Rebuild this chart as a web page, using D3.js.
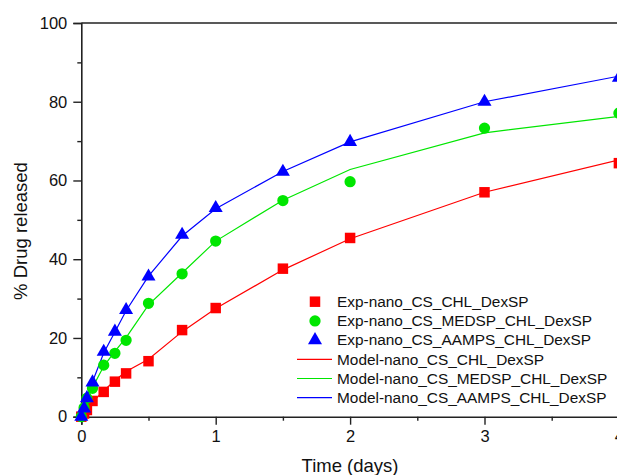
<!DOCTYPE html>
<html>
<head>
<meta charset="utf-8">
<script src="https://cdn.jsdelivr.net/npm/d3@7"></script>
<style>
  html, body { margin: 0; padding: 0; background: #fff; overflow: hidden; }
  svg { display: block; font-family: "Liberation Sans", Arial, sans-serif; }
</style>
</head>
<body>
<svg id="chart" width="617" height="475"></svg>
<script>
//

const times = [0, 0.0208, 0.0417, 0.0833, 0.1667, 0.25, 0.3333, 0.5, 0.75, 1, 1.5, 2, 3, 4]

const expChl = [0, 0.8, 1.7, 4.0, 6.3, 8.9, 11.0, 14.1, 22.0, 27.6, 37.6, 45.4, 57.0, 64.4]
const expMedsp = [0, 2.3, 4.7, 7.2, 13.1, 16.1, 19.4, 28.8, 36.3, 44.6, 54.9, 59.7, 73.3, 77.1]
const expAamps = [0, 2.1, 4.7, 8.7, 16.5, 21.6, 27.1, 35.6, 46.2, 53.0, 62.2, 69.8, 80.0, 86.1]

const modelChl = [0, 1.0, 1.9, 3.7, 6.6, 9.2, 11.5, 14.6, 21.6, 27.5, 37.3, 45.2, 57.0, 65.2]
const modelMedsp = [0, 2.2, 4.1, 7.4, 12.8, 16.6, 20.1, 28.4, 36.5, 44.6, 55.0, 62.8, 72.1, 76.3]
const modelAamps = [0, 2.6, 4.9, 8.9, 16.2, 21.5, 26.9, 35.7, 45.9, 52.8, 62.3, 69.8, 80.0, 86.5]

const xTicks = [0, 1, 2, 3, 4]
const xMinor = [0.5, 1.5, 2.5, 3.5]
const yTicks = [0, 20, 40, 60, 80, 100]
const yMinor = [10, 30, 50, 70, 90]

const seriesNames = [
  'Exp-nano_CS_CHL_DexSP',
  'Exp-nano_CS_MEDSP_CHL_DexSP',
  'Exp-nano_CS_AAMPS_CHL_DexSP',
  'Model-nano_CS_CHL_DexSP',
  'Model-nano_CS_MEDSP_CHL_DexSP',
  'Model-nano_CS_AAMPS_CHL_DexSP'
]
const colors = ['#ff0000', '#00e600', '#0000ff']
const shapes = ['square', 'circle', 'triangle']

//

const svg = d3.select('#chart')

const x = d3.scaleLinear().domain([0, 4]).range([81.3, 618.9])
const y = d3.scaleLinear().domain([0, 100]).range([416.7, 23])

const axisColor = '#222'

// top frame
svg.append('line')
  .attr('x1', x(0)).attr('x2', x(4))
  .attr('y1', y(100)).attr('y2', y(100))
  .attr('stroke', axisColor).attr('stroke-width', 1.6)

// axes
const xAxis = svg.append('g')
  .attr('transform', 'translate(0,' + y(0) + ')')
  .call(d3.axisBottom(x).tickValues(xTicks).tickSize(8).tickPadding(6).tickFormat(d3.format('d')))
xAxis.append('g')
  .call(d3.axisBottom(x).tickValues(xMinor).tickSize(4).tickFormat(''))

const yAxis = svg.append('g')
  .attr('transform', 'translate(' + x(0) + ',0)')
  .call(d3.axisLeft(y).tickValues(yTicks).tickSize(8).tickPadding(6))
yAxis.append('g')
  .call(d3.axisLeft(y).tickValues(yMinor).tickSize(4).tickFormat(''))

svg.selectAll('.domain').attr('stroke', axisColor).attr('stroke-width', 1.6)
svg.selectAll('.tick line').attr('stroke', axisColor).attr('stroke-width', 1.4)
svg.selectAll('.tick text').attr('font-size', 16.5).attr('fill', '#111')
  .attr('font-family', '"Liberation Sans", Arial, sans-serif')
xAxis.selectAll('path.domain').filter((d, i, n) => n[i].parentNode !== xAxis.node()).remove()
yAxis.selectAll('path.domain').filter((d, i, n) => n[i].parentNode !== yAxis.node()).remove()

// axis titles
svg.append('text')
  .attr('x', 350).attr('y', 472)
  .attr('text-anchor', 'middle')
  .attr('font-size', 18.5).attr('fill', '#111')
  .text('Time (days)')

svg.append('text')
  .attr('transform', 'translate(27,231) rotate(-90)')
  .attr('text-anchor', 'middle')
  .attr('font-size', 18.5).attr('fill', '#111')
  .text('% Drug released')

// model lines
const line = d3.line()
  .x((d, i) => x(times[i]))
  .y(d => y(d))

;[modelChl, modelMedsp, modelAamps].forEach(function (vals, k) {
  svg.append('path')
    .datum(vals)
    .attr('d', line)
    .attr('fill', 'none')
    .attr('stroke', colors[k])
    .attr('stroke-width', 1.2)
})

// markers
const symbolFor = {
  square: d3.symbol().type(d3.symbolSquare).size(110),
  circle: d3.symbol().type(d3.symbolCircle).size(100),
  triangle: d3.symbol().type(d3.symbolTriangle).size(85)
}

;[expChl, expMedsp, expAamps].forEach(function (vals, k) {
  svg.append('g').selectAll('path')
    .data(vals)
    .enter().append('path')
    .attr('transform', (d, i) => 'translate(' + x(times[i]) + ',' + y(d) + ')')
    .attr('d', symbolFor[shapes[k]])
    .attr('fill', colors[k])
})

// legend
const legend = svg.append('g').attr('font-size', 15.4).attr('fill', '#111')
seriesNames.forEach(function (name, i) {
  const ly = 301.7 + i * 19.2
  const k = i % 3
  if (i < 3) {
    legend.append('path')
      .attr('transform', 'translate(315,' + ly + ')')
      .attr('d', symbolFor[shapes[k]])
      .attr('fill', colors[k])
  } else {
    legend.append('line')
      .attr('x1', 297).attr('x2', 332)
      .attr('y1', ly).attr('y2', ly)
      .attr('stroke', colors[k]).attr('stroke-width', 1.2)
  }
  legend.append('text')
    .attr('x', 337)
    .attr('y', ly)
    .attr('dy', '0.35em')
    .text(name)
})
</script>
</body>
</html>
